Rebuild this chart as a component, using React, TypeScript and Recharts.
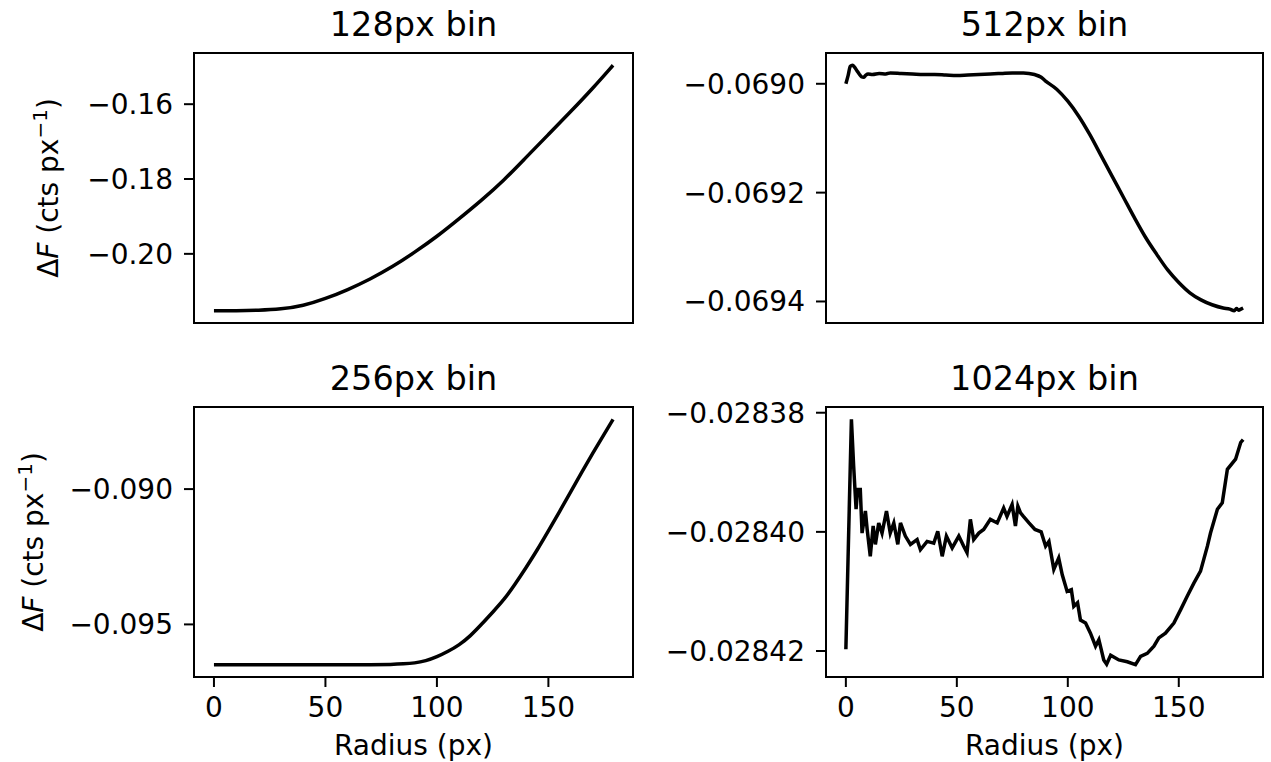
import { LineChart, Line, XAxis, YAxis, ReferenceArea, Label } from 'recharts'

// 128px bin
const radius128 = [0, 10, 20, 30, 40, 50, 60, 70, 80, 90, 100, 110, 120, 130, 140, 150, 160, 170, 179]
const flux128 = [
  -0.2152, -0.2152, -0.2151, -0.2148, -0.2139, -0.212, -0.2096, -0.2068, -0.2035, -0.1996,
  -0.1954, -0.1906, -0.1857, -0.1804, -0.1742, -0.1681, -0.162, -0.1557, -0.1496,
]

// 512px bin
const radius512 = [
  0, 1, 2, 3, 4, 5, 6, 7, 8, 9, 10, 12, 15, 18, 20, 25, 30, 35, 40, 45, 50, 55, 60, 65, 70, 75,
  80, 85, 88, 90, 95, 100, 105, 110, 115, 120, 125, 130, 135, 140, 145, 150, 155, 160, 165, 170,
  173, 175, 176, 177, 178, 179,
]
const flux512 = [
  -0.069, -0.068985, -0.068968, -0.068966, -0.06897, -0.068976, -0.068982, -0.068987, -0.068988,
  -0.068984, -0.068982, -0.068983, -0.068981, -0.068982, -0.06898, -0.068981, -0.068982,
  -0.068983, -0.068983, -0.068984, -0.068985, -0.068984, -0.068983, -0.068982, -0.068981,
  -0.06898, -0.06898, -0.068983, -0.068988, -0.068995, -0.06901, -0.069032, -0.06906, -0.069094,
  -0.069132, -0.06917, -0.069208, -0.069246, -0.069282, -0.069313, -0.069342, -0.069365,
  -0.069384, -0.069397, -0.069406, -0.069412, -0.069414, -0.069417, -0.069413, -0.069416,
  -0.069414, -0.069412,
]

// 256px bin
const radius256 = [
  0, 10, 20, 30, 40, 50, 60, 70, 80, 85, 90, 95, 100, 105, 110, 115, 120, 125, 130, 135, 140,
  145, 150, 155, 160, 165, 170, 175, 179,
]
const flux256 = [
  -0.09649, -0.09649, -0.09649, -0.09649, -0.09649, -0.09649, -0.09649, -0.09649, -0.09648,
  -0.09646, -0.09643, -0.09635, -0.0962, -0.096, -0.09576, -0.09543, -0.095, -0.09455, -0.0941,
  -0.09352, -0.0929, -0.09225, -0.09155, -0.09083, -0.0901, -0.08937, -0.08866, -0.08798,
  -0.08742,
]

// 1024px bin
const radius1024 = [
  0, 2.5, 3.5, 4.6, 5.3, 6.5, 7.3, 8.8, 9.6, 11, 12.3, 13.3, 14.8, 16.3, 18.3, 20, 21.6, 23.4,
  24.6, 26.8, 29.1, 32.1, 33.6, 36.6, 39.6, 41.4, 43.4, 45.3, 47.9, 50.9, 53.1, 54.6, 56.1, 57.6,
  59.9, 62.1, 65.1, 68.2, 71.1, 72.6, 74.9, 76.4, 77.5, 78.7, 80, 82.5, 85.2, 88, 90, 91.5, 93.7,
  95.9, 97.5, 99.7, 101.6, 102.7, 104.4, 105.7, 108, 110.2, 112.5, 114, 116.2, 117.5, 119.3, 123,
  126.8, 130.5, 132.8, 135.8, 138.8, 141, 144, 147.8, 150.8, 153.8, 156.8, 159.8, 162.9, 164.3,
  167.4, 169.6, 171.9, 175.6, 177.9, 179,
]
const flux1024 = [
  -0.0284197, -0.0283811, -0.0283889, -0.0283962, -0.0283929, -0.0283929, -0.0284002, -0.0283965,
  -0.0283996, -0.0284041, -0.028399, -0.0284021, -0.0283985, -0.0284002, -0.0283965, -0.0284002,
  -0.0283985, -0.0284021, -0.0283985, -0.0284007, -0.0284021, -0.0284013, -0.028403, -0.0284016,
  -0.0284019, -0.0283999, -0.0284041, -0.0284007, -0.0284027, -0.0284007, -0.0284024, -0.0284035,
  -0.0283979, -0.0284013, -0.0284002, -0.0283996, -0.0283979, -0.0283985, -0.028396, -0.0283974,
  -0.0283954, -0.028399, -0.0283957, -0.0283968, -0.0283974, -0.0283985, -0.0283996, -0.0284,
  -0.0284024, -0.0284016, -0.0284063, -0.0284044, -0.0284072, -0.02841, -0.0284097, -0.0284125,
  -0.0284119, -0.0284148, -0.0284153, -0.028417, -0.0284192, -0.0284181, -0.0284215, -0.0284222,
  -0.0284207, -0.0284215, -0.0284218, -0.0284223, -0.0284209, -0.0284204, -0.0284192, -0.0284178,
  -0.028417, -0.0284153, -0.0284131, -0.0284108, -0.0284086, -0.0284066, -0.0284024, -0.0284002,
  -0.0283962, -0.0283951, -0.0283895, -0.0283878, -0.028385, -0.0283845,
]

const xTicks = [0, 50, 100, 150]

const FONT = 'DejaVu Sans'
const TICK_FS = 28
const LABEL_FS = 28
const TITLE_FS = 33.5
const PAD_L = 190
const PAD_R = 6
const PAD_T = 10
const PAD_B = 90

// matplotlib-style 5% autoscale margin
const padded = (vals: number[]): [number, number] => {
  const lo = Math.min(...vals)
  const hi = Math.max(...vals)
  const m = (hi - lo) * 0.05
  return [lo - m, hi + m]
}

interface PanelProps {
  radius: number[]
  flux: number[]
  yTicks: number[]
  digits: number
  left: number
  top: number
  width: number
  height: number
  showX: boolean
  yLabelX?: number
  curve: 'monotone' | 'linear' | 'basis'
}

function Panel({ radius, flux, yTicks, digits, left, top, width, height, showX, yLabelX, curve }: PanelProps) {
  const data = radius.map((r, i) => ({ r, f: flux[i] }))
  const xDom = padded(radius)
  const yDom = padded(flux)
  const fmt = (v: number) => (v < 0 ? '\u2212' : '') + Math.abs(v).toFixed(digits)
  const chartLeft = left - PAD_L
  const tickStyle = { fill: '#000', fontSize: TICK_FS, fontFamily: FONT }

  return (
    <div style={{ position: 'absolute', left: chartLeft, top: top - PAD_T }}>
      <LineChart
        width={width + PAD_L + PAD_R}
        height={height + PAD_T + PAD_B}
        data={data}
        margin={{ top: PAD_T, right: PAD_R, bottom: 0, left: 0 }}
      >
        <XAxis
          dataKey="r"
          type="number"
          domain={xDom}
          ticks={xTicks}
          interval={0}
          allowDataOverflow
          height={PAD_B}
          axisLine={false}
          tickLine={{ stroke: '#000', strokeWidth: 2 }}
          tickSize={10}
          tickMargin={10}
          tick={showX ? tickStyle : false}
        >
          {showX && (
            <Label
              content={() => (
                <text
                  x={PAD_L + width / 2}
                  y={PAD_T + height + 78}
                  textAnchor="middle"
                  fontSize={LABEL_FS}
                  fontFamily={FONT}
                  fill="#000"
                >
                  Radius (px)
                </text>
              )}
            />
          )}
        </XAxis>
        <YAxis
          type="number"
          domain={yDom}
          ticks={yTicks}
          interval={0}
          allowDataOverflow
          width={PAD_L}
          axisLine={false}
          tickLine={{ stroke: '#000', strokeWidth: 2 }}
          tickSize={10}
          tickMargin={11}
          tick={tickStyle}
          tickFormatter={fmt}
        >
          {yLabelX !== undefined && (
            <Label
              content={() => {
                const cx = yLabelX - chartLeft
                const cy = PAD_T + height / 2
                return (
                  <text
                    x={cx}
                    y={cy}
                    transform={`rotate(-90 ${cx} ${cy})`}
                    textAnchor="middle"
                    fontSize={LABEL_FS}
                    fontFamily={FONT}
                    fill="#000"
                  >
                    <tspan>Δ</tspan>
                    <tspan fontStyle="italic">F</tspan>
                    <tspan> (cts px</tspan>
                    <tspan dy={-11} fontSize={20}>−1</tspan>
                    <tspan dy={11}>)</tspan>
                  </text>
                )
              }}
            />
          )}
        </YAxis>
        <ReferenceArea
          x1={xDom[0]}
          x2={xDom[1]}
          y1={yDom[0]}
          y2={yDom[1]}
          fill="none"
          fillOpacity={0}
          stroke="#000"
          strokeWidth={2}
        />
        <Line
          type={curve}
          dataKey="f"
          stroke="#000"
          strokeWidth={3.5}
          dot={false}
          isAnimationActive={false}
        />
      </LineChart>
    </div>
  )
}

const titles = [
  { text: '128px bin', x: 413.5, y: 36 },
  { text: '512px bin', x: 1044.5, y: 36 },
  { text: '256px bin', x: 413.5, y: 390 },
  { text: '1024px bin', x: 1044.5, y: 390 },
]

export default function App() {
  return (
    <div
      style={{
        position: 'absolute',
        left: 0,
        top: 0,
        width: 1271,
        height: 762,
        background: '#fff',
        fontFamily: FONT,
        overflow: 'hidden',
      }}
    >
      <Panel
        radius={radius128}
        flux={flux128}
        yTicks={[-0.2, -0.18, -0.16]}
        digits={2}
        left={194}
        top={53}
        width={439}
        height={270}
        showX={false}
        yLabelX={58}
        curve="basis"
      />
      <Panel
        radius={radius512}
        flux={flux512}
        yTicks={[-0.0694, -0.0692, -0.069]}
        digits={4}
        left={826}
        top={53}
        width={437}
        height={270}
        showX={false}
        curve="monotone"
      />
      <Panel
        radius={radius256}
        flux={flux256}
        yTicks={[-0.095, -0.09]}
        digits={3}
        left={194}
        top={407}
        width={439}
        height={270}
        showX={true}
        yLabelX={43}
        curve="basis"
      />
      <Panel
        radius={radius1024}
        flux={flux1024}
        yTicks={[-0.02842, -0.0284, -0.02838]}
        digits={5}
        left={826}
        top={407}
        width={437}
        height={270}
        showX={true}
        curve="linear"
      />
      <svg
        width={1271}
        height={762}
        style={{ position: 'absolute', left: 0, top: 0, pointerEvents: 'none' }}
      >
        {titles.map((t) => (
          <text key={t.text} x={t.x} y={t.y} textAnchor="middle" fontSize={TITLE_FS} fontFamily={FONT} fill="#000">
            {t.text}
          </text>
        ))}
      </svg>
    </div>
  )
}
